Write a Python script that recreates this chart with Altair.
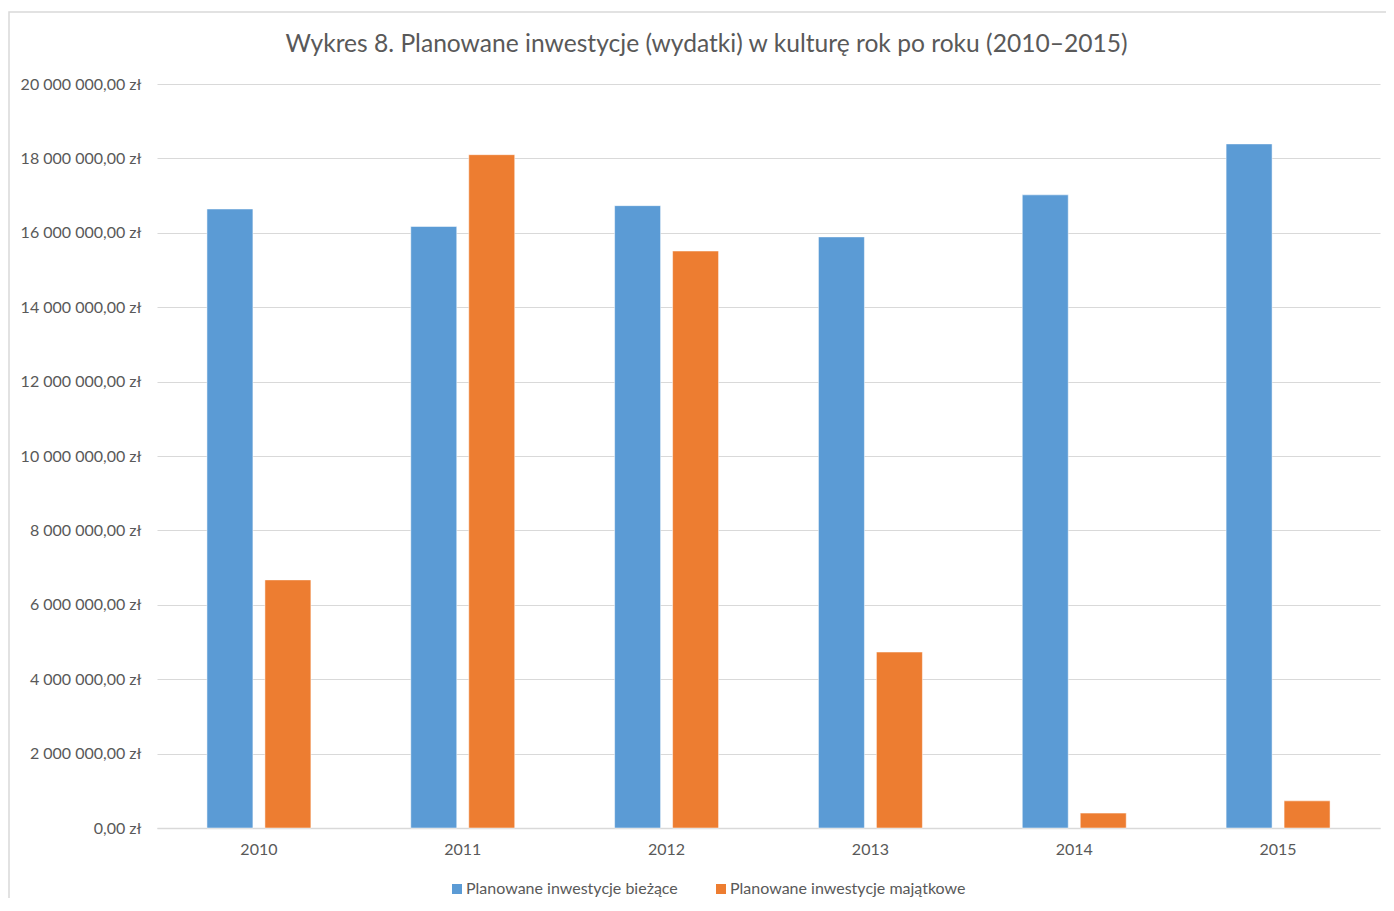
import altair as alt
import pandas as pd

years = ["2010", "2011", "2012", "2013", "2014", "2015"]
biezace = [16640000, 16170000, 16730000, 15890000, 17020000, 18390000]
majatkowe = [6670000, 18100000, 15510000, 4730000, 400000, 730000]
series_names = ["Planowane inwestycje bieżące", "Planowane inwestycje majątkowe"]
colors = ["#5B9BD5", "#ED7D31"]

rows = []
for i, y in enumerate(years):
    rows.append({"rok": y, "seria": series_names[0], "wartosc": biezace[i]})
    rows.append({"rok": y, "seria": series_names[1], "wartosc": majatkowe[i]})
df = pd.DataFrame(rows)

FONT = "Lato"
GRAY = "#595959"

label_expr = ("replace(replace(format(datum.value, ',.2f'), regexp(',', 'g'), ' '), '.', ',') + ' zł'")

bars = alt.Chart(df).mark_bar(stroke="white", strokeWidth=0.5).encode(
    x=alt.X("rok:N", title=None,
            scale=alt.Scale(paddingInner=0.49, paddingOuter=0.245),
            axis=alt.Axis(labelAngle=0, labelFont=FONT, labelFontSize=16, labelColor=GRAY,
                          labelPadding=13, ticks=False, domain=True, domainColor="#D9D9D9",
                          domainWidth=1.5, grid=False)),
    xOffset=alt.XOffset("seria:N", sort=series_names,
                        scale=alt.Scale(paddingInner=0.207, paddingOuter=0)),
    y=alt.Y("wartosc:Q", title=None,
            scale=alt.Scale(domain=[0, 20000000]),
            axis=alt.Axis(values=list(range(0, 20000001, 2000000)), labelExpr=label_expr,
                          labelFont=FONT, labelFontSize=16, labelColor=GRAY, labelPadding=16,
                          ticks=False, domain=False, gridColor="#D9D9D9", gridWidth=1.2)),
    color=alt.Color("seria:N", sort=series_names,
                    scale=alt.Scale(domain=series_names, range=colors),
                    legend=alt.Legend(title=None, orient="none", direction="horizontal",
                                      legendX=292, legendY=797, symbolType="square",
                                      symbolSize=100, symbolStrokeWidth=0,
                                      labelFont=FONT, labelFontSize=16, labelColor=GRAY,
                                      labelOffset=1, columnPadding=35, labelLimit=500)),
)

frame = alt.Chart(pd.DataFrame({"a": [0]})).mark_rect(
    fill=None, stroke="#D9D9D9", strokeWidth=1.5
).encode(x=alt.value(-148), x2=alt.value(1240), y=alt.value(-72), y2=alt.value(900))

chart = alt.layer(frame, bars).properties(
    width=1223, height=744,
    title=alt.TitleParams(
        "Wykres 8. Planowane inwestycje (wydatki) w kulturę rok po roku (2010–2015)",
        font=FONT, fontSize=24.6, fontWeight="normal", color=GRAY, offset=0, dx=-62, dy=46,
        anchor="middle", frame="group"),
    autosize=alt.AutoSizeParams(type="none"),
    padding={"left": 149, "top": 76, "right": 6, "bottom": 70},
).configure_view(stroke=None)

chart.save("out.html", embed_options={"renderer": "svg", "actions": False})
